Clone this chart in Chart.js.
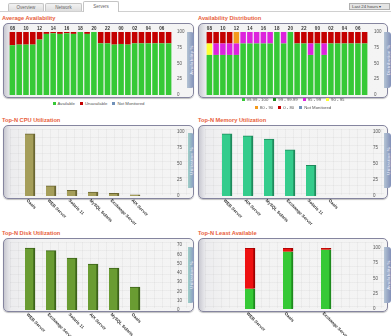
<!DOCTYPE html>
<html><head><meta charset="utf-8">
<script src="https://cdn.jsdelivr.net/npm/chart.js@4/dist/chart.umd.min.js"></script>
<style>
body{margin:0;width:391px;height:336px;background:#fff;position:relative;overflow:hidden;font-family:"Liberation Sans",Arial,sans-serif;}
.title{position:absolute;color:#e8603a;font-weight:bold;font-size:5.7px;white-space:nowrap;line-height:7px;}
.box{position:absolute;border:1.5px solid #85859f;border-radius:5px;box-sizing:border-box;
 background:linear-gradient(to right,#c8c8d0 0px,#dfdfe4 4px,#ececee 7px,#f3f3f3 30px,#f4f4f4 100%);
 box-shadow:0 1px 1px rgba(0,0,0,0.25);}
.grid{position:absolute;left:6px;right:3px;top:3px;bottom:3px;
 background-image:repeating-linear-gradient(to right,rgba(0,0,0,0.035) 0 1px,transparent 1px 8px),repeating-linear-gradient(to bottom,rgba(0,0,0,0.035) 0 1px,transparent 1px 8px);}
.vtab{position:absolute;background:linear-gradient(to right,#b4c4d4,#8290b8);border-radius:0 3px 3px 0;color:#f4f4ff;font-size:4.3px;overflow:hidden;}
.vtab span{position:absolute;left:50%;top:50%;transform:translate(-50%,-50%) rotate(-90deg);white-space:nowrap;letter-spacing:0.3px;}
canvas{position:absolute;}
.legend{position:absolute;display:flex;justify-content:center;gap:5px;font-size:4.3px;color:#555;white-space:nowrap;line-height:6px;}
.legend i{display:inline-block;width:3px;height:3px;margin-right:2px;vertical-align:middle;position:relative;top:-0.5px;}
.tab{position:absolute;top:3px;height:8px;box-sizing:border-box;border:1px solid #c4c4c4;border-bottom:none;border-radius:2px 2px 0 0;background:linear-gradient(#f2f2f2,#dedede);font-size:4.5px;color:#666;text-align:center;line-height:7px;}
</style></head>
<body>
<div class="tab" style="left:8px;width:36px;">Overview</div>
<div class="tab" style="left:45px;width:37px;">Network</div>
<div class="tab" style="left:83px;width:36px;top:1px;height:11px;background:#fff;line-height:10px;">Servers</div>
<div style="position:absolute;left:0;top:11px;width:83px;height:1px;background:#d0d0d0"></div>
<div style="position:absolute;left:119px;top:11px;width:272px;height:1px;background:#d0d0d0"></div>
<div style="position:absolute;left:349px;top:3px;width:41px;height:7px;box-sizing:border-box;border:1px solid #b0b0b0;background:#e4e4e4;font-size:4.3px;color:#444;line-height:5px;padding-left:2px;">Last 24 hours &#9662;</div>

<div class="title" style="left:2px;top:15px;">Average Availability</div>
<div class="title" style="left:198px;top:15px;">Availability Distribution</div>
<div class="title" style="left:2px;top:117px;">Top-N CPU Utilization</div>
<div class="title" style="left:198px;top:117px;">Top-N Memory Utilization</div>
<div class="title" style="left:2px;top:230px;">Top-N Disk Utilization</div>
<div class="title" style="left:198px;top:230px;">Top-N Least Available</div>

<div class="box" style="left:3px;top:23px;width:191px;height:75px;"></div>
<div class="box" style="left:198px;top:23px;width:190px;height:75px;"></div>
<div class="box" style="left:3px;top:125px;width:191px;height:74px;"><div class="grid"></div></div>
<div class="box" style="left:198px;top:125px;width:190px;height:74px;"><div class="grid"></div></div>
<div class="box" style="left:3px;top:238px;width:191px;height:74px;"><div class="grid"></div></div>
<div class="box" style="left:198px;top:238px;width:190px;height:74px;"><div class="grid"></div></div>

<div class="vtab" style="left:187px;top:32px;width:7px;height:56px;"><span>Availability %</span></div>
<div class="vtab" style="left:384px;top:32px;width:7px;height:56px;"><span>Distribution %</span></div>
<div class="vtab" style="left:188px;top:133px;width:6px;height:55px;background:linear-gradient(to right,#9fd0c8,#8a98c0);"><span>Utilization %</span></div>
<div class="vtab" style="left:384px;top:133px;width:7px;height:55px;"><span>Utilization %</span></div>
<div class="vtab" style="left:188px;top:247px;width:6px;height:56px;background:linear-gradient(to right,#9fd0c8,#8a98c0);"><span>Utilization %</span></div>
<div class="vtab" style="left:384px;top:247px;width:7px;height:56px;"><span>Availability %</span></div>

<canvas id="c1" width="191" height="75" style="left:3px;top:23px;"></canvas>
<canvas id="c2" width="190" height="75" style="left:198px;top:23px;"></canvas>
<canvas id="c3" width="191" height="100" style="left:3px;top:125px;"></canvas>
<canvas id="c4" width="190" height="100" style="left:198px;top:125px;"></canvas>
<canvas id="c5" width="191" height="98" style="left:3px;top:238px;"></canvas>
<canvas id="c6" width="190" height="98" style="left:198px;top:238px;"></canvas>

<div class="legend" id="lg1" style="left:3px;width:191px;top:101px;"></div>
<div class="legend" id="lg2a" style="left:198px;width:190px;top:97px;"></div>
<div class="legend" id="lg2b" style="left:198px;width:190px;top:105px;"></div>

<script>
// ---- data ----
const hours = ["08","09","10","11","12","13","14","15","16","17","18","19","20","21","22","23","00","01","02","03","04","05","06","07"];
const availAvailable   = [79,80,80,80,88,97,98,97,98,97,100,97,100,82,82,80,81,80,82,82,82,82,82,82];
const availUnavailable = [21,20,20,20,12,3,2,3,2,3,0,3,0,18,18,20,19,20,18,18,18,18,18,18];
const availNotMonitored = [0,0,0,0,0,0,0,0,0,0,0,0,0,0,0,0,0,0,0,0,0,0,0,0];
const availSeriesNames = ["Available","Unavailable","Not Monitored"];

const distNames = ["99.99 - 100","99 - 99.99","95 - 99","90 - 95","80 - 90","0 - 80","Not Monitored"];
const dist9999 = [63.6,63.6,63.6,63.6,63.6,81.8,81.8,81.8,81.8,81.8,100,81.8,100,81.8,81.8,63.6,81.8,63.6,81.8,81.8,81.8,81.8,81.8,81.8];
const dist99   = [0,0,0,0,0,0,0,0,0,0,0,0,0,0,0,0,0,0,0,0,0,0,0,0];
const dist95   = [0,18.2,18.2,18.2,18.2,18.2,18.2,18.2,18.2,18.2,0,18.2,0,0,0,18.2,0,18.2,0,0,0,0,0,0];
const dist90   = [18.2,0,0,0,0,0,0,0,0,0,0,0,0,0,0,0,0,0,0,0,0,0,0,0];
const dist80   = [0,0,0,0,18.2,0,0,0,0,0,0,0,0,0,0,0,0,0,0,0,0,0,0,0];
const dist0    = [18.2,18.2,18.2,18.2,0,0,0,0,0,0,0,0,0,18.2,18.2,18.2,18.2,18.2,18.2,18.2,18.2,18.2,18.2,18.2];
const distNM   = [0,0,0,0,0,0,0,0,0,0,0,0,0,0,0,0,0,0,0,0,0,0,0,0];

const cpuServers = ["Oasis","WEB Server","Solaris 11","MySQL Solaris","Exchange Server","AIX Server"];
const cpuValues  = [97,16,9,6,4,2];
const memServers = ["WEB Server","AIX Server","MySQL Solaris","Exchange Server","Solaris 11","Oasis"];
const memValues  = [97,94,89,72,48,0];
const diskServers = ["WEB Server","Exchange Server","Solaris 11","AIX Server","MySQL Solaris","Oasis"];
const diskValues  = [66.7,63.9,56,49.5,45.2,24.8];
const leastServers = ["WEB Server","Oasis","Exchange Server"];
const leastAvailable   = [33,94,97];
const leastUnavailable = [67,6,3];

// ---- styles ----
const FONT = '"Liberation Sans", Arial, sans-serif';
const cAvail = '#36c936', cUnavail = '#c40000', cNM = '#7090b8';
const distColors = ['#36c936','#1f8a1f','#dd22dd','#ffff33','#f49a1c','#c40000','#7090b8'];

const rotLabels = {
  id:'rotLabels',
  afterDraw(chart){
    const o = chart.options.plugins.rotLabels;
    if(!o || !o.on) return;
    const {ctx, chartArea} = chart; const xs = chart.scales.x;
    ctx.save();
    ctx.font = 'bold 4.3px ' + FONT; ctx.fillStyle = '#333'; ctx.textBaseline = 'middle'; ctx.textAlign = 'left';
    chart.data.labels.forEach((lab,i)=>{
      const x = xs.getPixelForValue(i);
      ctx.save(); ctx.translate(x-3, chartArea.bottom+4); ctx.rotate(Math.PI/4); ctx.fillText(lab,0,0); ctx.restore();
    });
    ctx.restore();
  }
};
Chart.register(rotLabels);

// right-hand value axis; the gap to the labels is the (invisible) tick length
function yAxis(width, gap, max, step){
  return {position:'right', min:0, max:max, stacked:true,
    afterFit(s){ s.width = width; },
    grid:{display:false, drawTicks:true, tickLength:gap}, border:{display:false},
    ticks:{stepSize:step, padding:0, color:'#555', font:{size:4.5, family:FONT}}};
}
function topAxis(){
  return {position:'top', stacked:true, afterFit(s){s.height=6;}, grid:{display:false, drawTicks:false}, border:{display:false},
    ticks:{autoSkip:false, maxRotation:0, padding:1, color:'#333', font:{size:4.5, weight:'bold', family:FONT},
           callback:(v,i)=> i%2===0 ? hours[i] : ''}};
}

// Chart 1: Average Availability
new Chart(document.getElementById('c1'), {
  type:'bar',
  data:{labels:hours, datasets:[
    {label:availSeriesNames[0], data:availAvailable, backgroundColor:cAvail},
    {label:availSeriesNames[1], data:availUnavailable, backgroundColor:cUnavail},
    {label:availSeriesNames[2], data:availNotMonitored, backgroundColor:cNM}]},
  options:{responsive:false, animation:false,
    layout:{padding:{left:6,top:3,bottom:3,right:0}},
    datasets:{bar:{categoryPercentage:1, barPercentage:0.82}},
    plugins:{legend:{display:false}, tooltip:{enabled:false}},
    scales:{x:topAxis(), y:yAxis(22,5,100,25)}}
});

// Chart 2: Availability Distribution
const distData = [dist9999,dist99,dist95,dist90,dist80,dist0,distNM];
new Chart(document.getElementById('c2'), {
  type:'bar',
  data:{labels:hours, datasets:distData.map((d,i)=>({label:distNames[i], data:d, backgroundColor:distColors[i]}))},
  options:{responsive:false, animation:false,
    layout:{padding:{left:8,top:3,bottom:3,right:0}},
    datasets:{bar:{categoryPercentage:1, barPercentage:0.82}},
    plugins:{legend:{display:false}, tooltip:{enabled:false}},
    scales:{x:topAxis(), y:yAxis(20,6,100,25)}}
});

function topN(id, labels, datasets, geo, max, step){
  return new Chart(document.getElementById(id), {
    type:'bar',
    data:{labels:labels, datasets:datasets},
    options:{responsive:false, animation:false,
      layout:{padding:{left:geo.l, top:geo.t, bottom:geo.b, right:0}},
      datasets:{bar:{barThickness:10}},
      plugins:{legend:{display:false}, tooltip:{enabled:false}, rotLabels:{on:true}},
      scales:{x:{display:false, stacked:true}, y:yAxis(geo.w, geo.p, max, step)}}
  });
}
const bw = {top:1, right:2, left:0, bottom:0};
topN('c3', cpuServers, [{data:cpuValues, backgroundColor:'#a59e5a', borderColor:'#6b6632', borderWidth:bw}],
     {l:16.5, t:7, b:29, w:48.5, p:31.5}, 100, 25);
topN('c4', memServers, [{data:memValues, backgroundColor:'#34cc8c', borderColor:'#1f8a5c', borderWidth:bw}],
     {l:18.5, t:7, b:29, w:45.5, p:30.5}, 100, 25);
topN('c5', diskServers, [{data:diskValues, backgroundColor:'#6a9c32', borderColor:'#3d641a', borderWidth:bw}],
     {l:16.5, t:7, b:26, w:48.5, p:31.5}, 70, 10);
topN('c6', leastServers, [
     {data:leastAvailable, backgroundColor:'#36c936', borderColor:'#1e8a1e', borderWidth:{top:0,right:2,left:0,bottom:0}},
     {data:leastUnavailable, backgroundColor:'#ee1111', borderColor:'#a00000', borderWidth:bw}],
     {l:33, t:10, b:27, w:43, p:28}, 100, 25);

// ---- HTML legends ----
function legend(el, names, colors){
  document.getElementById(el).innerHTML = names.map((n,i)=>'<span><i style="background:'+colors[i]+'"></i>'+n+'</span>').join('');
}
legend('lg1', availSeriesNames, [cAvail,cUnavail,cNM]);
legend('lg2a', distNames.slice(0,4), distColors.slice(0,4));
legend('lg2b', distNames.slice(4), distColors.slice(4));
</script>
</body></html>
